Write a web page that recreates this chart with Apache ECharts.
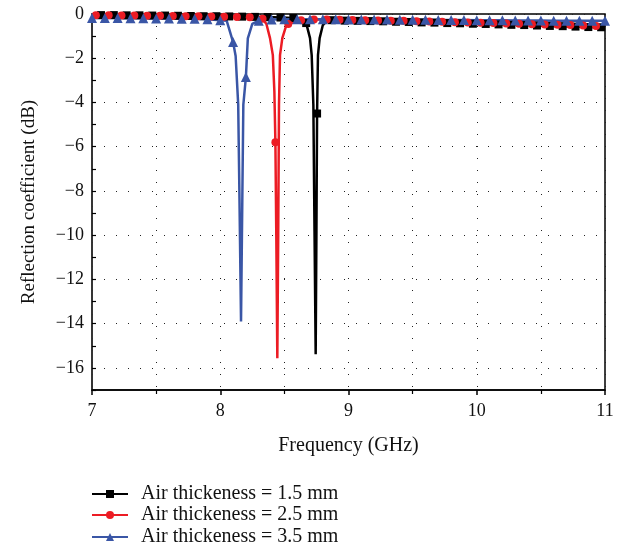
<!DOCTYPE html>
<html>
<head>
<meta charset="utf-8">
<script src="https://cdn.jsdelivr.net/npm/echarts@6/dist/echarts.min.js"></script>
<style>
  html, body { margin: 0; padding: 0; background: #fff; }
  #chart { width: 628px; height: 546px; }
</style>
</head>
<body>
<div id="chart"></div>
<script>
// 1.5 mm air gap: points carrying a marker, then extra line-only points
var blackMarkFreq = [7.07, 7.17, 7.27, 7.37, 7.47, 7.57, 7.67, 7.77, 7.87, 7.97, 8.07, 8.17, 8.27, 8.37, 8.47, 8.57, 8.67, 8.755, 8.87, 8.97, 9.07, 9.17, 9.27, 9.37, 9.47, 9.57, 9.67, 9.77, 9.87, 9.97, 10.07, 10.17, 10.27, 10.37, 10.47, 10.57, 10.67, 10.77, 10.87, 10.97]
var blackMarkDb = [-0.05, -0.05, -0.06, -0.06, -0.07, -0.07, -0.08, -0.09, -0.1, -0.1, -0.11, -0.12, -0.13, -0.14, -0.16, -0.18, -0.41, -4.5, -0.28, -0.3, -0.31, -0.32, -0.33, -0.35, -0.36, -0.38, -0.39, -0.41, -0.42, -0.44, -0.45, -0.47, -0.49, -0.5, -0.52, -0.54, -0.55, -0.57, -0.59, -0.6]
var blackLineFreq = [7.0, 8.62, 8.7, 8.713, 8.726, 8.735, 8.744, 8.75, 8.762, 8.775, 8.8, 8.83, 11.0]
var blackLineDb = [-0.05, -0.22, -1.09, -1.86, -4.1, -9.8, -15.38, -9.8, -1.86, -1.09, -0.5, -0.32, -0.6]

// 2.5 mm air gap
var redMarkFreq = [7.03, 7.13, 7.23, 7.33, 7.43, 7.53, 7.63, 7.73, 7.83, 7.93, 8.03, 8.13, 8.23, 8.33, 8.43, 8.53, 8.63, 8.73, 8.83, 8.93, 9.03, 9.13, 9.23, 9.33, 9.43, 9.53, 9.63, 9.73, 9.83, 9.93, 10.03, 10.13, 10.23, 10.33, 10.43, 10.53, 10.63, 10.73, 10.83, 10.93]
var redMarkDb = [-0.06, -0.06, -0.07, -0.07, -0.08, -0.08, -0.09, -0.1, -0.1, -0.11, -0.12, -0.13, -0.15, -0.22, -5.8, -0.45, -0.28, -0.25, -0.25, -0.26, -0.27, -0.28, -0.29, -0.3, -0.31, -0.33, -0.34, -0.35, -0.37, -0.38, -0.4, -0.41, -0.43, -0.44, -0.46, -0.47, -0.49, -0.5, -0.52, -0.54]
var redLineFreq = [7.0, 8.36, 8.388, 8.41, 8.422, 8.437, 8.445, 8.452, 8.458, 8.466, 8.484, 8.51, 11.0]
var redLineDb = [-0.06, -0.45, -1.09, -1.86, -3.5, -10, -15.56, -10, -4.1, -1.86, -1.09, -0.6, -0.55]

// 3.5 mm air gap
var blueMarkFreq = [7.0, 7.1, 7.2, 7.3, 7.4, 7.5, 7.6, 7.7, 7.8, 7.9, 8.0, 8.1, 8.2, 8.3, 8.4, 8.5, 8.6, 8.7, 8.8, 8.9, 9.0, 9.1, 9.2, 9.3, 9.4, 9.5, 9.6, 9.7, 9.8, 9.9, 10.0, 10.1, 10.2, 10.3, 10.4, 10.5, 10.6, 10.7, 10.8, 10.9, 11.0]
var blueMarkDb = [-0.18, -0.18, -0.18, -0.19, -0.19, -0.2, -0.2, -0.21, -0.22, -0.24, -0.28, -1.27, -2.85, -0.3, -0.25, -0.24, -0.24, -0.24, -0.24, -0.24, -0.25, -0.25, -0.25, -0.25, -0.26, -0.26, -0.26, -0.27, -0.27, -0.27, -0.28, -0.28, -0.28, -0.29, -0.29, -0.29, -0.3, -0.3, -0.3, -0.31, -0.31]
var blueLineFreq = [8.05, 8.12, 8.14, 8.15, 8.162, 8.172, 8.18, 8.215, 8.25]
var blueLineDb = [-0.3, -1.9, -4.1, -8.4, -13.9, -8.4, -4.1, -1.1, -0.45]

var seriesNames = ['Air thickeness = 1.5 mm', 'Air thickeness = 2.5 mm', 'Air thickeness = 3.5 mm']
var xTicks = [7, 8, 9, 10, 11]
var yTicks = [0, -2, -4, -6, -8, -10, -12, -14, -16]

var FONT = 'Liberation Serif'

// merge marker points and line-only points, sorted by frequency
function buildData(markF, markD, lineF, lineD) {
  var list = []
  markF.forEach(function (f, i) { list.push({ value: [f, markD[i]] }) })
  lineF.forEach(function (f, i) { list.push({ value: [f, lineD[i]], symbol: 'none' }) })
  list.sort(function (a, b) { return a.value[0] - b.value[0] })
  return list
}

function makeSeries(name, color, symbol, size, data) {
  return {
    name: name,
    type: 'line',
    data: data,
    symbol: symbol,
    symbolSize: size,
    showAllSymbol: true,
    clip: true,
    color: color,
    lineStyle: { color: color, width: 2.5 },
    itemStyle: { color: color },
    emphasis: { disabled: true },
    animation: false
  }
}

// one legend block per row, stacked under the plot
function makeLegend(name, top) {
  return {
    orient: 'vertical',
    left: 91,
    top: top,
    padding: 0,
    itemWidth: 36,
    itemHeight: 10,
    textStyle: { fontFamily: FONT, fontSize: 20, color: '#111', padding: [0, 0, 0, 8] },
    data: [name]
  }
}

var myChart = echarts.init(document.getElementById('chart'))

var option = {
  backgroundColor: '#fff',
  animation: false,
  grid: {
    left: 92,
    right: 23,
    top: 14,
    bottom: 156,
    show: true,
    borderColor: '#000',
    borderWidth: 1.5,
    backgroundColor: 'transparent'
  },
  legend: [
    makeLegend(seriesNames[0], 484),
    makeLegend(seriesNames[1], 505),
    makeLegend(seriesNames[2], 527)
  ],
  xAxis: {
    type: 'value',
    min: 7,
    max: 11,
    interval: 1,
    name: 'Frequency (GHz)',
    nameLocation: 'middle',
    nameGap: 46,
    nameTextStyle: { fontFamily: FONT, fontSize: 20, color: '#111' },
    axisLine: { show: true, onZero: false, lineStyle: { color: '#000', width: 1.5 } },
    axisTick: { show: true, inside: false, length: 5, lineStyle: { color: '#000', width: 1.5 } },
    minorTick: { show: true, splitNumber: 2, length: 4, lineStyle: { color: '#000', width: 1.2 } },
    axisLabel: {
      margin: 12,
      fontFamily: FONT,
      fontSize: 18,
      color: '#111',
      formatter: function (v) { return xTicks.indexOf(v) >= 0 ? String(v) : '' }
    },
    splitLine: { show: true, lineStyle: { color: '#222', type: [1, 11], width: 1 } },
    minorSplitLine: { show: true, lineStyle: { color: '#222', type: [1, 11], width: 1 } }
  },
  yAxis: {
    type: 'value',
    min: -17,
    max: 0,
    interval: 1,
    name: 'Reflection coefficient (dB)',
    nameLocation: 'middle',
    nameGap: 53,
    nameTextStyle: { fontFamily: FONT, fontSize: 19, color: '#111' },
    axisLine: { show: true, onZero: false, lineStyle: { color: '#333', width: 1.5 } },
    axisTick: { show: true, inside: true, length: 4, lineStyle: { color: '#000', width: 1.2 } },
    axisLabel: {
      margin: 8,
      fontFamily: FONT,
      fontSize: 18,
      color: '#111',
      formatter: function (v) {
        if (yTicks.indexOf(v) < 0) return ''
        return v < 0 ? '\u2212' + Math.abs(v) : String(v)
      }
    },
    // only every second split line is drawn (even dB values)
    splitLine: { show: true, lineStyle: { color: ['rgba(0,0,0,0)', '#222'], type: [1, 11], width: 1 } }
  },
  series: [
    makeSeries(seriesNames[0], '#000000', 'rect', 8, buildData(blackMarkFreq, blackMarkDb, blackLineFreq, blackLineDb)),
    makeSeries(seriesNames[1], '#ec1c24', 'circle', 8, buildData(redMarkFreq, redMarkDb, redLineFreq, redLineDb)),
    makeSeries(seriesNames[2], '#3a56a6', 'triangle', 10, buildData(blueMarkFreq, blueMarkDb, blueLineFreq, blueLineDb))
  ]
}

myChart.setOption(option)
window.onresize = function () {
  myChart.resize()
}
</script>
</body>
</html>
